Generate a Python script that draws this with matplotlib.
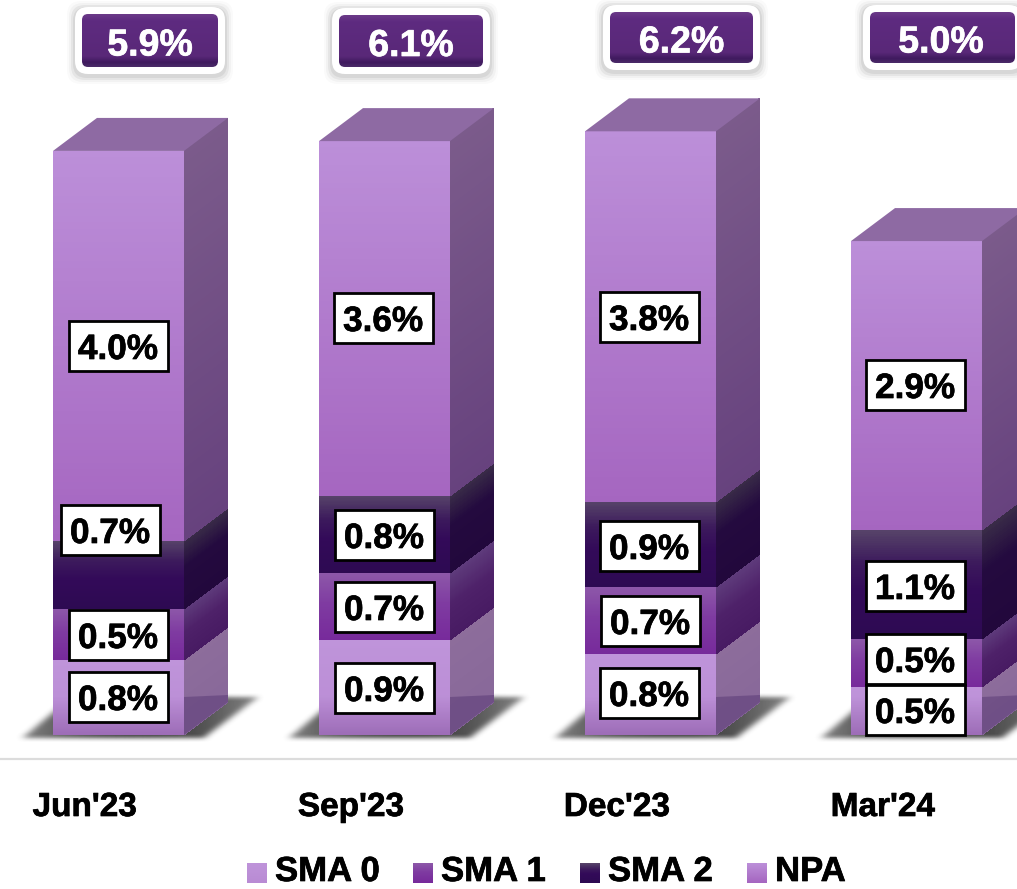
import numpy as np
import matplotlib
matplotlib.use("Agg")
import matplotlib.pyplot as plt
import matplotlib.patheffects as pe
from matplotlib.colors import LinearSegmentedColormap
from matplotlib.patches import FancyBboxPatch, Rectangle

plt.rcParams['font.family'] = ['Liberation Sans', 'DejaVu Sans']

#values
quarters = ["Jun'23", "Sep'23", "Dec'23", "Mar'24"]
series_names = ["SMA 0", "SMA 1", "SMA 2", "NPA"]
sma0 = [0.77, 0.97, 0.83, 0.49]
sma1 = [0.52, 0.68, 0.68, 0.49]
sma2 = [0.69, 0.79, 0.87, 1.11]
npa = [3.98, 3.62, 3.78, 2.95]
sma0_labels = ["0.8%", "0.9%", "0.8%", "0.5%"]
sma1_labels = ["0.5%", "0.7%", "0.7%", "0.5%"]
sma2_labels = ["0.7%", "0.8%", "0.9%", "1.1%"]
npa_labels = ["4.0%", "3.6%", "3.8%", "2.9%"]
total_labels = ["5.9%", "6.1%", "6.2%", "5.0%"]

#layout of the picture in pixels
W, H = 1017, 889
BASE_Y = 735 #pixel row of value 0
PX_PER_UNIT = 98
FIRST_X = 118.5 #pixel column of first bar centre
STEP = 266
BAR_W = 131 / STEP
DX = 44 / STEP
DY = 33 / PX_PER_UNIT

#label box centres (x, y) for each series, per quarter
sma0_boxes = [(119, 697), (385, 688), (650, 693), (916, 710)]
sma1_boxes = [(119, 635), (385, 607), (651, 621), (916, 659)]
sma2_boxes = [(111, 530), (385, 535), (650, 546), (916, 586)]
npa_boxes = [(119, 346), (384, 318), (650, 317), (916, 385)]
#total badges: x0, y0, x1, y1 of the white frame
badges = [(75, 7, 225, 74), (332, 8, 490, 74), (603, 5, 760, 70), (863, 5, 1022, 70)]
tick_x = [85, 351, 617, 883]
legend_x = [247, 413, 580, 747]


def xd(px):
    return (px - FIRST_X) / STEP


def yd(py):
    return (BASE_Y - py) / PX_PER_UNIT


def cmap(stops):
    return LinearSegmentedColormap.from_list("c", stops)


def heavy(color):
    #the reference text is a little heavier than the plain bold face
    return [pe.withStroke(linewidth=0.5, foreground=color)]


#gradients run from top (0) to bottom (1)
front_maps = [
    cmap([(0, "#bf94da"), (1, "#b98bd4")]),
    cmap([(0, "#8d58a9"), (0.45, "#7f3ba1"), (1, "#772a9b")]),
    cmap([(0, "#574369"), (0.3, "#3c1a5c"), (0.55, "#330a59"), (1, "#2d0a52")]),
    cmap([(0, "#bc8fd9"), (1, "#a566c0")]),
]
side_maps = [
    cmap([(0, "#8d6d9b"), (1, "#88689a")]),
    cmap([(0, "#5f3c7c"), (0.5, "#4e2169"), (1, "#481b63")]),
    cmap([(0, "#3a2d48"), (0.4, "#240a3f"), (1, "#22083c")]),
    cmap([(0, "#7b5b8b"), (1, "#67427e")]),
]
fade_front = LinearSegmentedColormap.from_list("f", [(0.45, 0.25, 0.55, 0.0), (0.45, 0.25, 0.55, 0.4)])


def gradient(ax, x0, x1, y_top, y_bot, rise, cm):
    #quad mesh that can lean upward to the right, for the side faces
    n = 60
    ys = np.linspace(y_top, y_bot, n + 1)
    X = np.column_stack([np.full(n + 1, x0), np.full(n + 1, x1)])
    Y = np.column_stack([ys, ys + rise])
    C = ((np.arange(n) + 0.5) / n).reshape(-1, 1)
    return ax.pcolormesh(X, Y, C, cmap=cm, vmin=0, vmax=1, zorder=3)


def floor_shadow(ax, centre):
    #soft shadow the column throws on the floor
    x_px = np.arange(-125, 170)
    y_px = np.arange(675, 752)
    gx, gy = np.meshgrid(x_px, y_px)
    t = (gy - 697) / 40.0
    inside = (t >= 0) & (t <= 1) & (gx >= -48 - 48 * t) & (gx <= 138 - 53 * t)
    mask = inside.astype(float)
    k = np.ones(9) / 9
    for _ in range(2):
        mask = np.apply_along_axis(lambda r: np.convolve(r, k, mode='same'), 1, mask)
    k = np.ones(5) / 5
    for _ in range(2):
        mask = np.apply_along_axis(lambda r: np.convolve(r, k, mode='same'), 0, mask)
    #darkest near the column, paler towards the far corners
    far = np.clip(np.abs(gx - 20) / 130.0, 0, 1)
    rgba = np.zeros(mask.shape + (4,))
    rgba[..., :3] = 0.2
    rgba[..., 3] = mask * (0.95 - 0.45 * far ** 2)
    px = FIRST_X + centre * STEP
    ax.imshow(rgba, extent=(xd(px - 125), xd(px + 170), yd(752), yd(675)),
              aspect='auto', origin='upper', interpolation='bilinear', zorder=1)


fig = plt.figure(figsize=(W / 100, H / 100), dpi=100)
ax = fig.add_axes([0, 0, 1, 1])
ax.axis('off')

stack = [sma0, sma1, sma2, npa]
for i in range(len(quarters)):
    floor_shadow(ax, i)
    x0, x1 = i - BAR_W / 2, i + BAR_W / 2
    bottom = 0
    for s, values in enumerate(stack):
        top = bottom + values[i]
        gradient(ax, x0, x1, top, bottom, 0, front_maps[s])
        gradient(ax, x1, x1 + DX, top, bottom, DY, side_maps[s])
        bottom = top
    #top face
    ax.fill([x0, x1, x1 + DX, x0 + DX], [bottom, bottom, bottom + DY, bottom + DY],
            color="#8e6aa3", lw=0, zorder=3)
    #darker band where the shadow falls over the foot of the column
    gradient(ax, x0, x1, yd(697), 0, 0, fade_front).set_zorder(4)
    ax.fill([x1, x1 + DX, x1 + DX, x1], [yd(697), yd(695), DY, 0],
            color="#4a2a6a", alpha=0.4, lw=0, zorder=4)

ax.set_xlim(xd(0), xd(W))
ax.set_ylim(yd(H), yd(0))

#second axes in pixels for the boxes, badges and texts
ov = fig.add_axes([0, 0, 1, 1])
ov.axis('off')
ov.patch.set_alpha(0)

ov.plot([0, W], [759, 759], color="#dcdcdc", lw=1.6, solid_capstyle='butt')

all_labels = [sma0_labels, sma1_labels, sma2_labels, npa_labels]
all_boxes = [sma0_boxes, sma1_boxes, sma2_boxes, npa_boxes]
for labels, boxes in zip(all_labels, all_boxes):
    for lab, (cx, cy) in zip(labels, boxes):
        ov.add_patch(Rectangle((cx - 50, cy - 25), 98.5, 50, fc="white", ec="black", lw=2, zorder=5))
        ov.text(cx - 1, cy, lab, fontsize=25.3, fontweight='bold', color="black",
                ha='center', va='center_baseline', zorder=6, path_effects=heavy("black"))

badge_map = cmap([(0, "#6b3a88"), (0.12, "#5e2b80"), (0.8, "#592878"), (0.92, "#3f1a5e"), (1, "#4a2a68")])
for lab, (bx0, by0, bx1, by1) in zip(total_labels, badges):
    #blurred shadow under the white frame
    for grow, alpha in [(8, 0.02), (6, 0.03), (4, 0.05), (2, 0.06)]:
        ov.add_patch(FancyBboxPatch((bx0 - grow, by0 + 2 - grow), bx1 - bx0 + 2 * grow, by1 - by0 + 2 * grow,
                                    boxstyle="round,pad=0,rounding_size=14", fc="black", ec="none",
                                    alpha=alpha, zorder=6))
    ov.add_patch(FancyBboxPatch((bx0, by0), bx1 - bx0, by1 - by0, boxstyle="round,pad=0,rounding_size=13",
                                fc="white", ec="none", zorder=7))
    inner = FancyBboxPatch((bx0 + 7, by0 + 7), bx1 - bx0 - 14, by1 - by0 - 14,
                           boxstyle="round,pad=0,rounding_size=6", fc="none", ec="none", zorder=8)
    ov.add_patch(inner)
    grad = ov.imshow(np.linspace(0, 1, 80).reshape(-1, 1), cmap=badge_map, vmin=0, vmax=1, aspect='auto',
                     extent=(bx0 + 7, bx1 - 7, by1 - 7, by0 + 7), zorder=8)
    grad.set_clip_path(inner)
    ov.text(min((bx0 + bx1) / 2, 941), (by0 + by1) / 2 + 1, lab, fontsize=27, fontweight='bold', color="white",
            ha='center', va='center_baseline', zorder=9, path_effects=heavy("white"))

for name, x in zip(quarters, tick_x):
    ov.text(x, 804, name, fontsize=24, fontweight='bold', color="black", ha='center', va='center_baseline',
            path_effects=heavy("black"))

#legend
for s, name in enumerate(series_names):
    x = legend_x[s]
    ov.imshow(np.linspace(0, 1, 30).reshape(-1, 1), cmap=front_maps[s], vmin=0, vmax=1, aspect='auto',
              extent=(x, x + 20, 883, 863), zorder=5)
    ov.text(x + 28, 881, name, fontsize=25, fontweight='bold', color="black", ha='left', va='baseline',
            path_effects=heavy("black"))

ov.set_xlim(0, W)
ov.set_ylim(H, 0)

fig.savefig("out.png", dpi=100)
